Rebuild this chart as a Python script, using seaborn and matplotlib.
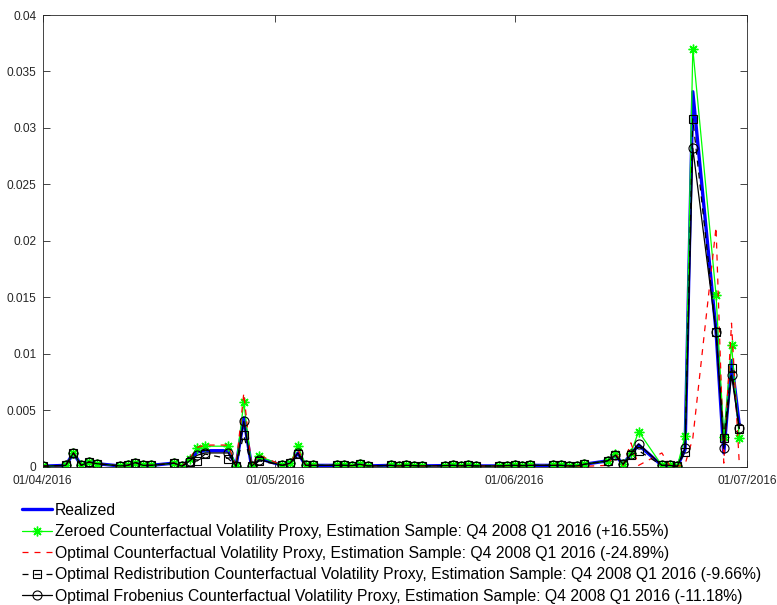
import numpy as np
import pandas as pd
import matplotlib
matplotlib.use("Agg")
import matplotlib.pyplot as plt
import matplotlib.dates as mdates
import seaborn as sns

# ---------------- data ----------------
dates = pd.bdate_range("2016-04-01", "2016-06-30")  # weekdays Apr 1 .. Jun 30, 2016

realized = [0.00003, 0.0001, 0.0012, 0.0001, 0.0004, 0.00025,
            0.00005, 0.0001, 0.00035, 0.0001, 0.0001,
            0.0003, 0.00003, 0.0006, 0.0013, 0.0014,
            0.0014, 0.00003, 0.0043, 0.00003, 0.0007,
            0.0001, 0.0003, 0.0012, 0.0001, 0.0001,
            0.0001, 0.0001, 0.00008, 0.0002, 0.00005,
            0.0001, 0.00005, 0.0001, 0.00008, 0.00005,
            0.00008, 0.0001, 0.00006, 0.0001, 0.00005,
            0.00005, 0.00008, 0.0001, 0.00008, 0.0001,
            0.0001, 0.0001, 0.00005, 0.00005, 0.0002,
            0.0005, 0.0010, 0.0002, 0.0011, 0.0019,
            0.0001, 0.0001, 0.00002, 0.0015, 0.0332,
            0.0120, 0.0012, 0.0094, 0.0037]

zeroed = [0.00003, 0.0001, 0.0012, 0.0001, 0.0004, 0.00025,
          0.00005, 0.0001, 0.00035, 0.0001, 0.0001,
          0.0003, 0.00003, 0.0007, 0.0016, 0.0018,
          0.0018, 0.00003, 0.0057, 0.00003, 0.0009,
          0.0001, 0.0003, 0.0018, 0.0001, 0.0001,
          0.0001, 0.0001, 0.00008, 0.0002, 0.00005,
          0.0001, 0.00005, 0.0001, 0.00008, 0.00005,
          0.00008, 0.0001, 0.00006, 0.0001, 0.00005,
          0.00005, 0.00008, 0.0001, 0.00008, 0.0001,
          0.0001, 0.0001, 0.00005, 0.00005, 0.0002,
          0.0005, 0.0011, 0.0002, 0.0012, 0.0031,
          0.0001, 0.0001, 0.00002, 0.0027, 0.0370,
          0.0152, 0.0026, 0.0108, 0.0025]

optimal = [0.00003, 0.0001, 0.0012, 0.0001, 0.0004, 0.00025,
           0.00005, 0.0001, 0.00035, 0.0001, 0.0001,
           0.0003, 0.00003, 0.0007, 0.0017, 0.0019,
           0.0019, 0.00003, 0.0065, 0.00003, 0.0010,
           0.0001, 0.0003, 0.0015, 0.0001, 0.0001,
           0.0001, 0.0001, 0.00008, 0.0002, 0.00005,
           0.0001, 0.00005, 0.0001, 0.00008, 0.00005,
           0.00008, 0.0001, 0.00006, 0.0001, 0.00005,
           0.00005, 0.00008, 0.0001, 0.00008, 0.0001,
           0.0001, 0.0001, 0.00005, 0.00005, 0.00002,
           0.0001, 0.0012, 0.0001, 0.0021, 0.0001,
           0.0012, 0.0001, 0.00002, 0.0002, 0.0025,
           0.0212, 0.0003, 0.0127, 0.0003]

redistribution = [0.00003, 0.0001, 0.0012, 0.0001, 0.0004, 0.00025,
                  0.00005, 0.0001, 0.00035, 0.0001, 0.0001,
                  0.0003, 0.00003, 0.0004, 0.0005, 0.0011,
                  0.0007, 0.00003, 0.0028, 0.00003, 0.0005,
                  0.0001, 0.0003, 0.0011, 0.0001, 0.0001,
                  0.0001, 0.0001, 0.00008, 0.0002, 0.00005,
                  0.0001, 0.00005, 0.0001, 0.00008, 0.00005,
                  0.00008, 0.0001, 0.00006, 0.0001, 0.00005,
                  0.00005, 0.00008, 0.0001, 0.00008, 0.0001,
                  0.0001, 0.0001, 0.00005, 0.00005, 0.0002,
                  0.0005, 0.0010, 0.0002, 0.0010, 0.0014,
                  0.0001, 0.0001, 0.00002, 0.0013, 0.0308,
                  0.0119, 0.0025, 0.0087, 0.0033]

frobenius = [0.00003, 0.0001, 0.0012, 0.0001, 0.0004, 0.00025,
             0.00005, 0.0001, 0.00035, 0.0001, 0.0001,
             0.0003, 0.00003, 0.0005, 0.0010, 0.0012,
             0.0012, 0.00003, 0.0040, 0.00003, 0.0006,
             0.0001, 0.0003, 0.0012, 0.0001, 0.0001,
             0.0001, 0.0001, 0.00008, 0.0002, 0.00005,
             0.0001, 0.00005, 0.0001, 0.00008, 0.00005,
             0.00008, 0.0001, 0.00006, 0.0001, 0.00005,
             0.00005, 0.00008, 0.0001, 0.00008, 0.0001,
             0.0001, 0.0001, 0.00005, 0.00005, 0.0002,
             0.0005, 0.0010, 0.0002, 0.0011, 0.0020,
             0.0001, 0.0001, 0.00002, 0.0016, 0.0282,
             0.0119, 0.0016, 0.0081, 0.0034]

labels = ["Realized",
          "Zeroed Counterfactual Volatility Proxy, Estimation Sample: Q4 2008 Q1 2016 (+16.55%)",
          "Optimal Counterfactual Volatility Proxy, Estimation Sample: Q4 2008 Q1 2016 (-24.89%)",
          "Optimal Redistribution Counterfactual Volatility Proxy, Estimation Sample: Q4 2008 Q1 2016 (-9.66%)",
          "Optimal Frobenius Counterfactual Volatility Proxy, Estimation Sample: Q4 2008 Q1 2016 (-11.18%)"]

yticks = [0, 0.005, 0.01, 0.015, 0.02, 0.025, 0.03, 0.035, 0.04]
ytick_labels = ["0", "0.005", "0.01", "0.015", "0.02", "0.025", "0.03", "0.035", "0.04"]

# ---------------- plotting ----------------
sns.set_theme(style="white")
plt.rcParams['font.family'] = ['Liberation Sans', 'DejaVu Sans']

fig = plt.figure(figsize=(7.77, 6.05), dpi=100)
ax = fig.add_axes([42.5 / 777, 1 - 466.5 / 605, 704.5 / 777, 451.5 / 605])

df = pd.DataFrame({"date": dates, "Realized": realized, "Zeroed": zeroed,
                   "Optimal": optimal, "Redistribution": redistribution,
                   "Frobenius": frobenius})

axc = (0.15, 0.15, 0.15)
asterisk = (8, 2, 0)
dash = (0, (4.8, 4.8))
sns.lineplot(data=df, x="date", y="Realized", ax=ax, color=(0, 0, 1),
             linewidth=2.4, label=labels[0])
sns.lineplot(data=df, x="date", y="Zeroed", ax=ax, color=(0, 1, 0),
             linewidth=0.9, marker=asterisk, markersize=7, markeredgecolor=(0, 1, 0),
             markeredgewidth=1.0, label=labels[1])
sns.lineplot(data=df, x="date", y="Optimal", ax=ax, color=(1, 0, 0),
             linewidth=0.9, linestyle=dash, label=labels[2])
sns.lineplot(data=df, x="date", y="Redistribution", ax=ax, color="black",
             linewidth=0.9, linestyle=dash, marker="s", markersize=5.5,
             markerfacecolor="none", markeredgecolor="black", markeredgewidth=0.8,
             label=labels[3])
sns.lineplot(data=df, x="date", y="Frobenius", ax=ax, color="black",
             linewidth=0.9, marker="o", markersize=6.5,
             markerfacecolor="none", markeredgecolor="black", markeredgewidth=0.8,
             label=labels[4])

ax.set_xlim(pd.Timestamp("2016-04-01"), pd.Timestamp("2016-07-01"))
ax.set_ylim(0, 0.04)
ax.set_yticks(yticks)
ax.set_yticklabels(ytick_labels)
ax.xaxis.set_major_locator(mdates.MonthLocator())
ax.xaxis.set_major_formatter(mdates.DateFormatter("%d/%m/%Y"))
ax.set_xlabel("")
ax.set_ylabel("")

for s in ax.spines.values():
    s.set_visible(True)
    s.set_color(axc)
    s.set_linewidth(0.6)
ax.tick_params(axis="both", direction="in", length=5, width=0.6, color=axc,
               labelcolor=axc, labelsize=8.6, top=True, right=True,
               bottom=True, left=True)
ax.tick_params(axis="x", pad=6)
ax.tick_params(axis="y", pad=4.5)

ax.get_legend().remove()
handles, lbls = ax.get_legend_handles_labels()
leg = fig.legend(handles, lbls, loc="upper left",
                 bbox_to_anchor=(15.7 / 777, 1 - 496.5 / 605),
                 frameon=False, fontsize=11.3, handlelength=1.9,
                 handletextpad=0.2, labelspacing=0.41, borderaxespad=0,
                 borderpad=0.4, numpoints=1)
for t in leg.get_texts():
    t.set_color("black")

fig.savefig("out.png", dpi=100, facecolor="white")
